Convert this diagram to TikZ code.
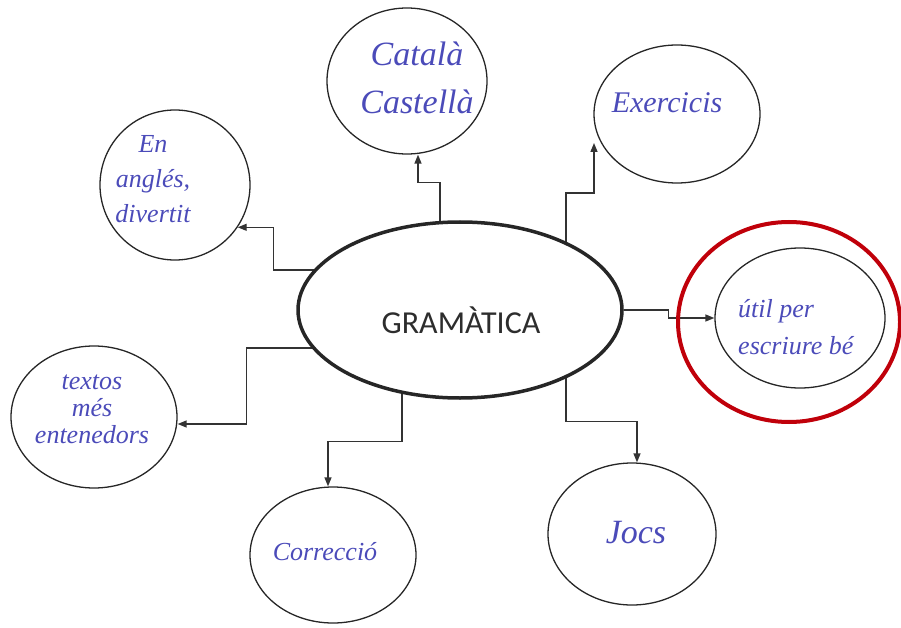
\documentclass[tikz,border=0pt]{standalone}
\usepackage{fontspec}
\newfontfamily\handfont{Liberation Serif}
\newfontfamily\titlefont{Carlito}
\usetikzlibrary{shapes.geometric,arrows.meta,backgrounds}
\definecolor{ink}{RGB}{75,75,185}
\definecolor{markred}{RGB}{192,0,10}
\definecolor{titlegray}{RGB}{45,45,45}
\begin{document}
\begin{tikzpicture}[x=1pt,y=-1pt,
  bubble/.style={ellipse, draw=black!85, line width=1.3pt, inner sep=0pt},
  hand/.style={text=ink, inner sep=0pt},
  conn/.style={draw=black!80, line width=1.4pt, -{Triangle[length=9pt,width=7pt]}}]
\useasboundingbox (0,0) rectangle (901,628);
% central node
\node[bubble, line width=3.5pt, fill=white, minimum width=324pt, minimum height=176pt] (g) at (460,310) {};
\node[text=titlegray, inner sep=0pt, font={\titlefont\fontsize{32}{38}\selectfont}] (gt) at (461,320) {GRAMÀTICA};
% satellite bubbles
\node[bubble, minimum width=160pt, minimum height=146pt] (cat) at (407,81) {};
\node[bubble, minimum width=166pt, minimum height=138pt] (exe) at (677,114) {};
\node[bubble, minimum width=170pt, minimum height=140pt] (util) at (800,318) {};
\node[ellipse, draw=markred, line width=4pt, inner sep=0pt, minimum width=222pt, minimum height=200pt] (mark) at (789,322) {};
\node[bubble, minimum width=150pt, minimum height=150pt] (ang) at (175,185) {};
\node[bubble, minimum width=166pt, minimum height=142pt] (tex) at (94,417) {};
\node[bubble, minimum width=166pt, minimum height=136pt] (cor) at (333,555) {};
\node[bubble, minimum width=168pt, minimum height=142pt] (joc) at (632,534) {};
% texts
\node[hand, align=center, font={\handfont\itshape\fontsize{34}{48}\selectfont}] (catt) at (417,78) {Català\\Castellà};
\node[hand, font={\handfont\itshape\fontsize{30}{36}\selectfont}] (exet) at (667,103) {Exercicis};
\node[hand, align=left, anchor=west, font={\handfont\itshape\fontsize{26}{37}\selectfont}] (utilt) at (738,327) {útil per\\escriure bé};
\node[hand, align=center, font={\handfont\itshape\fontsize{26}{35}\selectfont}] (angt) at (153,179) {En\\anglés,\\divertit};
\node[hand, align=center, font={\handfont\itshape\fontsize{26}{27}\selectfont}] (text) at (92,409) {textos\\més\\entenedors};
\node[hand, font={\handfont\itshape\fontsize{26}{32}\selectfont}] (cort) at (325,552) {Correcció};
\node[hand, font={\handfont\itshape\fontsize{34}{40}\selectfont}] (jocst) at (636,533) {Jocs};
% connectors
\begin{scope}[on background layer]
\draw[conn] ([xshift=-20pt]g.center) |- ([xshift=11pt,yshift=-28pt]cat.south) -- ([xshift=11pt]cat.south);
\draw[conn] ([xshift=106pt]g.center) |- ([xshift=-83pt,yshift=-79pt]exe.center) -- ([xshift=-83pt,yshift=-29pt]exe.center);
\draw[conn] (g.east) -- ([xshift=45pt]g.east) |- (util.west);
\draw[conn] ([xshift=-100pt,yshift=40pt]g.center) -| ([xshift=36pt]ang.-34) -- (ang.-34);
\draw[conn] ([xshift=-100pt,yshift=-38pt]g.center) -| ([xshift=69pt,yshift=-7pt]tex.east) -- ([yshift=-7pt]tex.east);
\draw[conn] ([xshift=-58pt]g.center) |- ([xshift=-5pt,yshift=45pt]cor.north) -- ([xshift=-5pt]cor.north);
\draw[conn] ([xshift=106pt]g.center) |- ([xshift=5pt,yshift=41pt]joc.north) -- ([xshift=5pt]joc.north);
\end{scope}
\end{tikzpicture}
\end{document}
